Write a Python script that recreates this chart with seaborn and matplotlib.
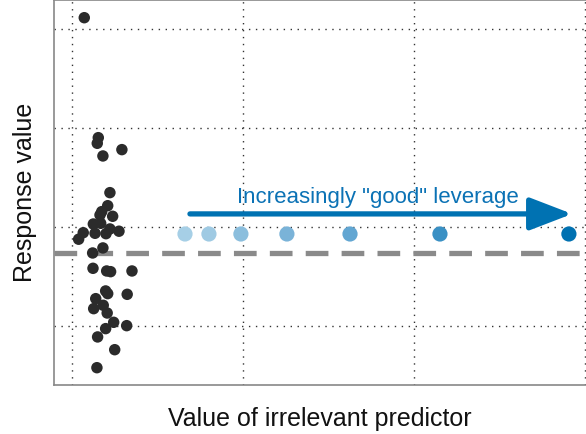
import matplotlib
matplotlib.use("Agg")
import matplotlib.pyplot as plt
import seaborn as sns
import pandas as pd

# Black cluster: irrelevant predictor values and responses
black_x = [0.072, 0.154, 0.148, 0.292, 0.181, 0.222, 0.209, 0.174, 0.164, 0.238,
           0.125, 0.168, 0.222, 0.275, 0.066, 0.135, 0.199, 0.039, 0.181, 0.121,
           0.123, 0.203, 0.226, 0.351, 0.197, 0.209, 0.323, 0.139, 0.183, 0.127,
           0.206, 0.244, 0.320, 0.197, 0.150, 0.250, 0.146]
black_y = [3.114, 1.901, 1.844, 1.780, 1.716, 1.345, 1.213, 1.153, 1.119, 1.106,
           1.028, 1.035, 0.978, 0.955, 0.940, 0.934, 0.930, 0.874, 0.786, 0.735,
           0.580, 0.553, 0.546, 0.553, 0.351, 0.324, 0.317, 0.273, 0.206, 0.172,
           0.128, 0.034, 0.000, -0.030, -0.114, -0.243, -0.425]

# Blue leverage points
blue_x = [0.661, 0.801, 0.988, 1.257, 1.626, 2.152, 2.906]
blue_y = [0.927, 0.927, 0.927, 0.927, 0.927, 0.927, 0.927]
blue_colors = ["#a6cfe6", "#9fcae3", "#8bbedd", "#7ab3d8", "#62a6d2", "#3a90c4", "#0071b1"]

mean_response = 0.735
arrow_start = (0.69, 1.13)
arrow_end = (2.925, 1.13)
arrow_label = 'Increasingly "good" leverage'
x_ticks = [0, 1, 2, 3]
y_ticks = [0, 1, 2, 3]

sns.set_style("white")
plt.rcParams["font.family"] = ["Liberation Sans", "DejaVu Sans"]

fig = plt.figure(figsize=(5.86, 4.34), dpi=100)
ax = fig.add_axes([54 / 586, 49 / 434, 532 / 586, 385 / 434])

ax.set_xlim(-0.105, 3.006)
ax.set_ylim(-0.600, 3.293)
ax.set_xticks(x_ticks)
ax.set_yticks(y_ticks)
ax.set_xticklabels([])
ax.set_yticklabels([])
ax.tick_params(length=0)
ax.grid(True, linestyle=(0, (1, 4)), color="#333333", linewidth=1.0)
ax.set_axisbelow(True)

for side in ["left", "bottom", "top"]:
    ax.spines[side].set_color("#888888")
    ax.spines[side].set_linewidth(1.2)
ax.spines["right"].set_visible(False)

ax.axhline(mean_response, color="#8a8a8a", linewidth=3.8,
           linestyle=(0, (4.3, 2.5)), zorder=2)

df_black = pd.DataFrame({"x": black_x, "y": black_y})
sns.scatterplot(data=df_black, x="x", y="y", color="#2b2b2b", s=68,
                edgecolor="none", ax=ax, zorder=3)

df_blue = pd.DataFrame({"x": blue_x, "y": blue_y, "k": list(range(len(blue_x)))})
sns.scatterplot(data=df_blue, x="x", y="y", hue="k", palette=blue_colors, s=120,
                edgecolor="none", legend=False, ax=ax, zorder=3)

ax.annotate("", xy=arrow_end, xytext=arrow_start,
            arrowprops=dict(arrowstyle="-|>,head_length=1.3,head_width=0.5",
                            mutation_scale=20, joinstyle="round",
                            color="#0072b2", lw=3.8, shrinkA=0, shrinkB=0),
            zorder=4)
ax.text(1.79, 1.30, arrow_label, color="#0b72b5", fontsize=16,
        ha="center", va="center", zorder=4)

ax.set_xlabel("Value of irrelevant predictor", fontsize=18, labelpad=12, color="#111111")
ax.set_ylabel("Response value", fontsize=18, labelpad=9, color="#111111")

fig.savefig("out.png", dpi=100)
